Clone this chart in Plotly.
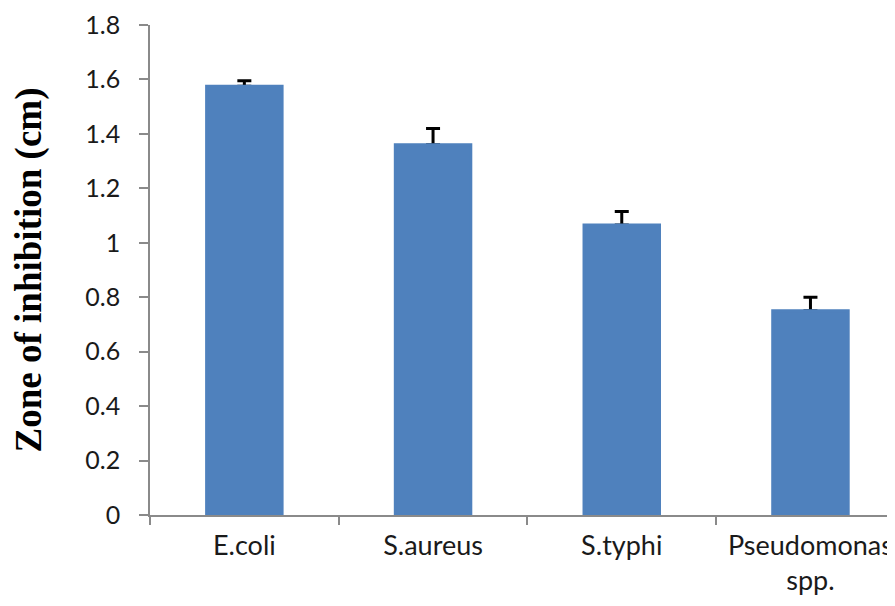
import plotly.graph_objects as go

categories = ["E.coli", "S.aureus", "S.typhi", "Pseudomonas<br>spp."]
zone_cm = [1.575, 1.36, 1.065, 0.75]
err_cm = [0.02, 0.06, 0.05, 0.05]
y_ticks = [0, 0.2, 0.4, 0.6, 0.8, 1, 1.2, 1.4, 1.6, 1.8]

bar_blue = "#4f81bd"
axis_grey = "#8a8a8a"
ytick_font = dict(family="Lato, Open Sans, sans-serif", size=25, color="#1a1a1a")
xtick_font = dict(family="Lato, Open Sans, sans-serif", size=27, color="#1a1a1a")

fig = go.Figure()

# bars carrying the plus-only error bars
fig.add_trace(go.Bar(
    x=categories,
    y=zone_cm,
    width=0.4,
    marker=dict(color=bar_blue, line=dict(width=0)),
    error_y=dict(type="data", array=err_cm, symmetric=False, arrayminus=[0] * 4,
                 color="black", thickness=3, width=7),
    showlegend=False,
    hoverinfo="skip",
))
# same bars again on top, so the lower cap sits under the bar like in Excel
fig.add_trace(go.Bar(
    x=categories,
    y=zone_cm,
    width=0.4,
    marker=dict(color=bar_blue, line=dict(width=3, color=bar_blue)),
    showlegend=False,
))

fig.update_layout(
    width=887,
    height=590,
    barmode="overlay",
    margin=dict(l=142, r=0, t=17, b=83),
    plot_bgcolor="white",
    paper_bgcolor="white",
    xaxis=dict(
        range=[-0.5, 3.448],
        showline=True,
        linecolor=axis_grey,
        linewidth=1.5,
        ticks="outside",
        tickson="boundaries",
        ticklen=8,
        tickcolor=axis_grey,
        tickwidth=1.5,
        tickfont=xtick_font,
        ticklabelstandoff=6,
        showgrid=False,
        automargin=False,
    ),
    yaxis=dict(
        range=[0, 1.8],
        tickvals=y_ticks,
        showline=True,
        linecolor=axis_grey,
        linewidth=1.5,
        ticks="outside",
        ticklen=9,
        tickcolor=axis_grey,
        tickwidth=1.5,
        tickfont=ytick_font,
        ticklabelstandoff=14,
        showgrid=False,
        zeroline=False,
        automargin=False,
        title=dict(
            text="<b>Zone of inhibition (cm)</b>",
            font=dict(family="Liberation Serif, Times New Roman, serif", size=37, color="black"),
            standoff=34,
        ),
    ),
)

fig.write_html("out.html")
